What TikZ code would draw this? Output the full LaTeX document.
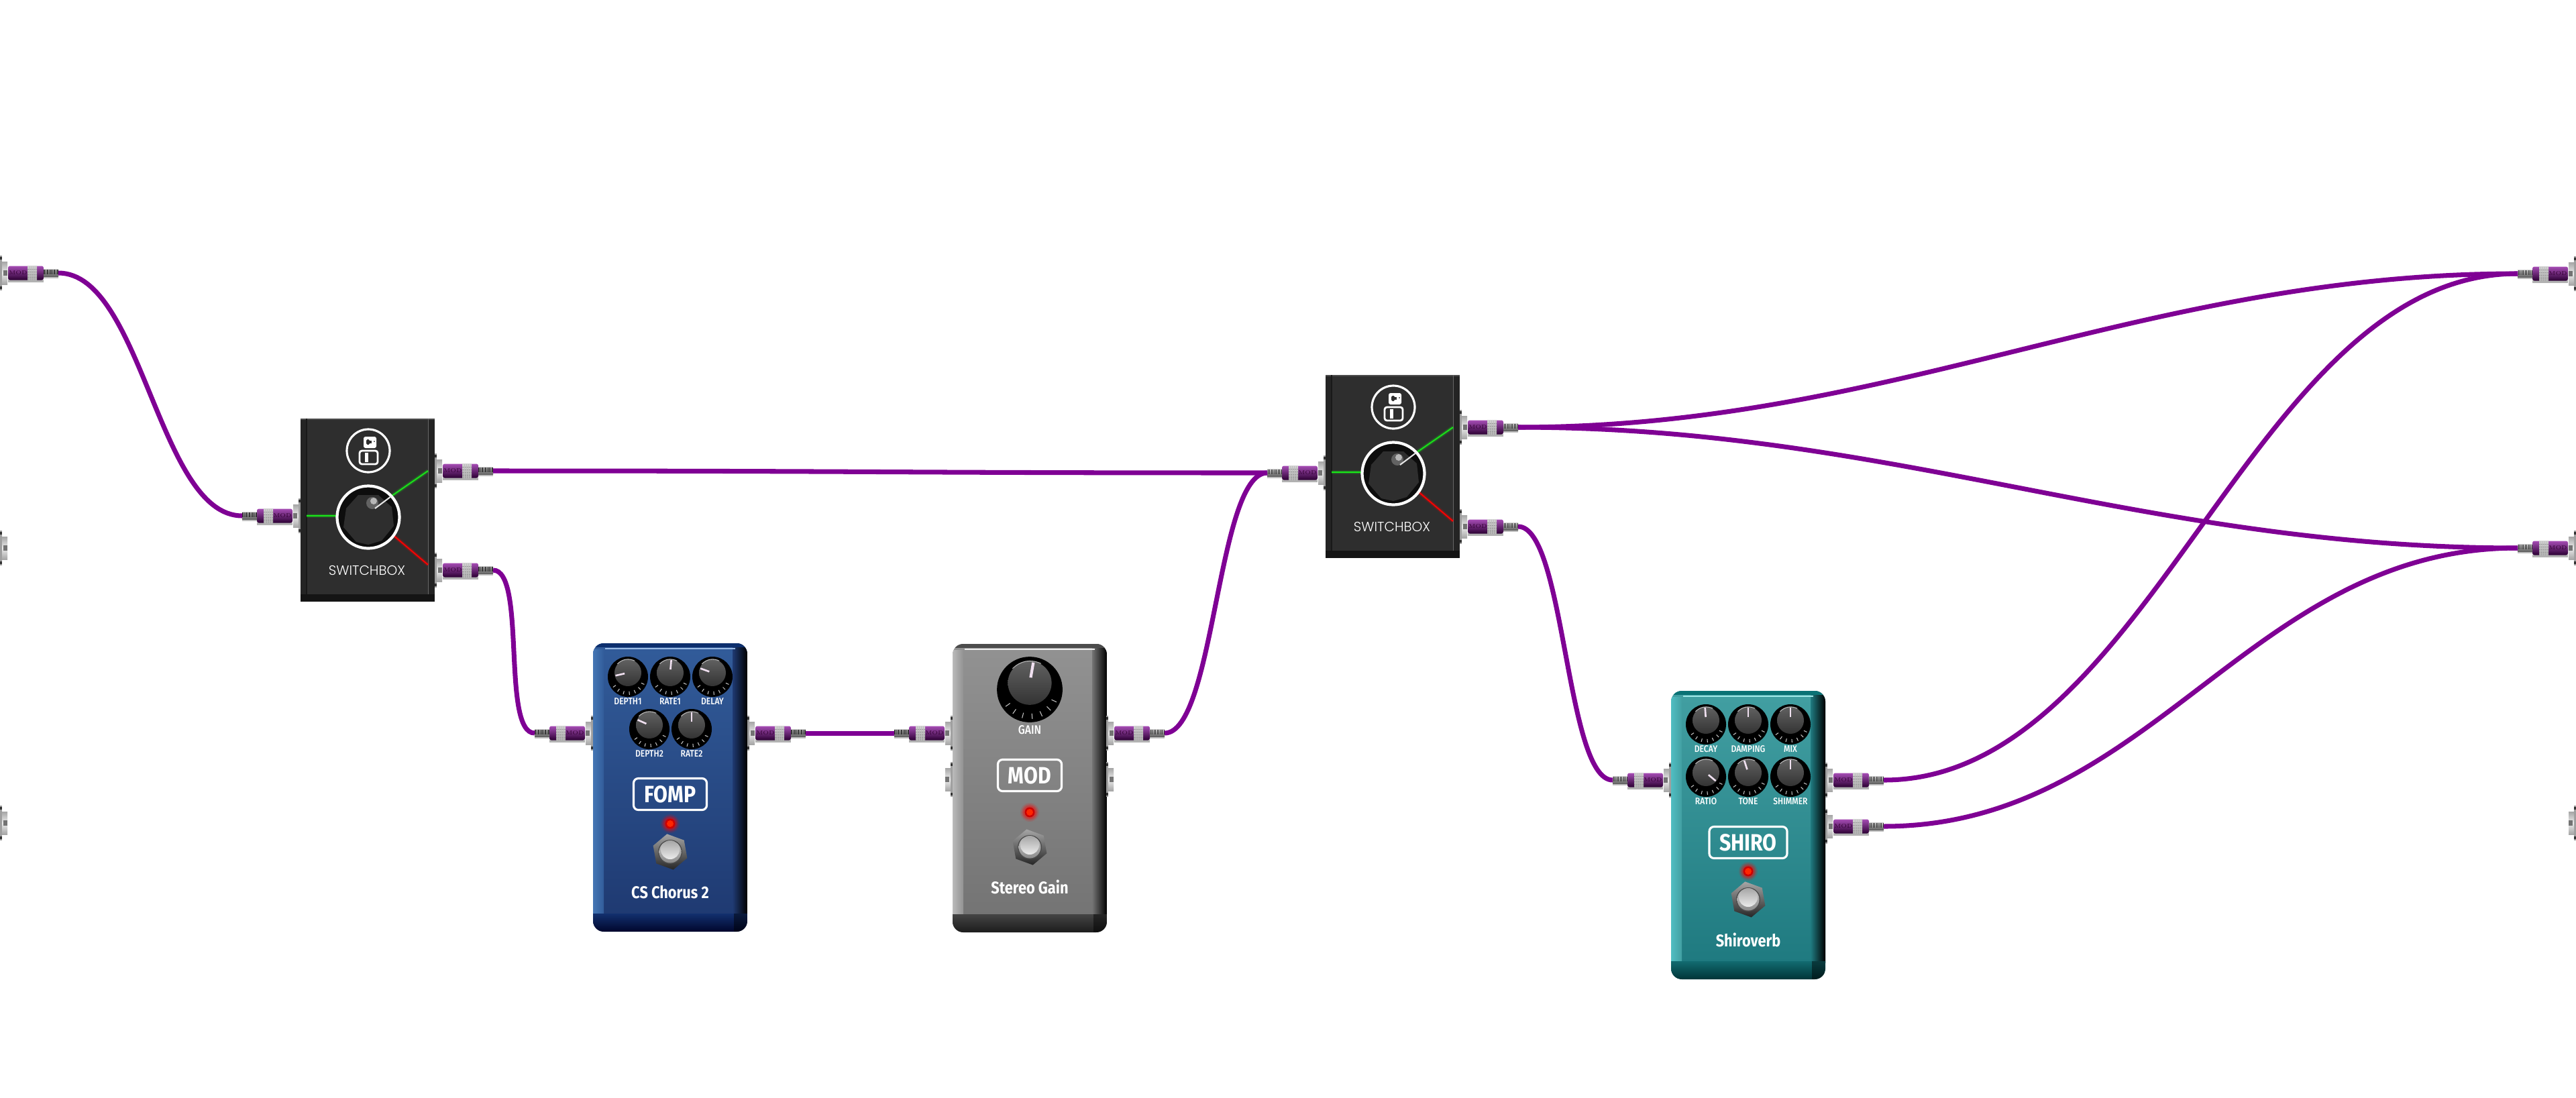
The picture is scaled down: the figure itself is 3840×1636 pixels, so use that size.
\documentclass[tikz,border=0pt]{standalone}
\usepackage{fontspec}
\usepackage{xcolor}
\usepackage{tikz}
\newfontfamily\pedalfont[FakeStretch=0.86]{Fira Sans}
\newfontfamily\labelfont[FakeStretch=0.86]{Fira Sans Medium}
\newfontfamily\boxfont{Poppins Light}
\definecolor{cablepurple}{HTML}{7F0094}
\definecolor{laser}{HTML}{19E619}
\definecolor{fomptop}{HTML}{325C9A}\definecolor{fompbot}{HTML}{1F3A72}\definecolor{fompedge}{HTML}{4476B4}
\definecolor{fomprim}{HTML}{0D2F6E}\definecolor{fomphigh}{HTML}{9CBCE6}\definecolor{fompbase}{HTML}{12306E}\definecolor{fompfoot}{HTML}{00062C}
\definecolor{gaintop}{HTML}{929292}\definecolor{gainbot}{HTML}{747474}\definecolor{gainedge}{HTML}{BABABA}
\definecolor{gainrim}{HTML}{4C4C4C}\definecolor{gainhigh}{HTML}{F0F0F0}\definecolor{gainbase}{HTML}{444444}\definecolor{gainfoot}{HTML}{1C1C1C}
\definecolor{shirotop}{HTML}{429FA2}\definecolor{shirobot}{HTML}{1F7A80}\definecolor{shiroedge}{HTML}{50BEC2}
\definecolor{shirorim}{HTML}{0A7275}\definecolor{shirohigh}{HTML}{9FE8E8}\definecolor{shirobase}{HTML}{126B70}\definecolor{shirofoot}{HTML}{003538}
\tikzset{
  cable/.style={draw=cablepurple,line width=2pt},
  logobox/.style={draw=white,line width=.9pt,rounded corners=2pt,inner sep=0pt,minimum height=.47cm,text=white,font=\pedalfont\bfseries\fontsize{10}{10}\selectfont},
  pedalname/.style={inner sep=0pt,text=white,font=\pedalfont\bfseries\fontsize{7.2}{7}\selectfont},
  knoblabel/.style={inner sep=0pt,text=white,font=\labelfont\fontsize{4}{4}\selectfont},
  pointer/.style={draw=white!88!violet,line width=.75pt},
  pics/jack/.style={code={
    \fill[gray!75] (0,-26) rectangle (3,26);
    \foreach \s in {-22,22} \fill[gray!40!black] (0,\s-2) rectangle (3,\s+2);
    \shade[top color=gray!70,bottom color=gray!70,middle color=gray!15] (3,-17) rectangle (11,17);
    \fill[black!55] (5,-4) rectangle (11,4);
  }},
  pics/plug/.style={code={
    \pic [transform shape] {jack};
    \fill[black,opacity=.3] (12,10) rectangle (65,14);
    \fill[black,opacity=.25] (65,5) rectangle (87,8);
    \shade[rounded corners=.8pt,top color=cablepurple!70!white,middle color=cablepurple,bottom color=cablepurple!35!black] (12,-10.5) rectangle (65,10.5);
    \shade[top color=gray!35,middle color=white,bottom color=gray!70] (41,-10.5) rectangle (55,10.5);
    \foreach \s in {-6,-2,2,6} \draw[gray!80,line width=.25pt] (41,\s) -- (55,\s);
    \foreach \s in {44,47,...,53} \draw[gray!50,line width=.2pt] (\s,-10.5) -- (\s,10.5);
    \shade[top color=gray!40,middle color=gray!20,bottom color=gray!70!black] (65,-5.5) rectangle (87,5.5);
    \foreach \s in {66,68.5,...,86} \draw[black!80,line width=.3pt] (\s,-5.5) -- (\s,1.5);
    \node (-mod) at (27,0) [inner sep=0pt,text=black!60!violet,font=\fontsize{2.4}{3}\selectfont] {MOD};
    \coordinate (-tip) at (87,0);
  }},
  pics/knob/.style 2 args={code={
    \fill[black] (0,0) circle (30);
    \foreach \s in {25,45,...,155} \draw[gray!45,line width=.3pt] (\s:22) -- (\s:27);
    \begin{scope}[shift={(0,-6)}]
      \shade[top color=black!62,bottom color=black!80] (0,0) circle (20);
      \draw[white,opacity=.7,line width=.3pt] (-140:20.5) to[bend left=35] (-60:20.5);
      \draw[pointer] (#1:5) -- (#1:19);
    \end{scope}
    \node (-label) at (0,37) [knoblabel] {#2};
  }},
  pics/footswitch/.style={code={
    \shade[top color=gray!70,bottom color=gray!30!black] (-100:27) -- (-40:27) -- (20:27) -- (80:27) -- (140:27) -- (200:27) -- cycle;
    \fill[black!70] (0,0) circle (18);
    \shade[top color=gray!45,bottom color=gray!90] (0,0) circle (16.5);
    \shade[top color=gray!70,bottom color=gray!15] (0,-3) circle (14);
  }},
  pics/led/.style={code={
    \foreach \s/\o in {14/.12,12/.2,10/.3} \fill[red,opacity=\o] (0,0) circle (\s);
    \fill[black!20!red] (0,0) circle (7.5);
    \fill[red!70!orange] (0,0) circle (5);
  }},
  pics/pedal/.style n args={8}{code={
    \begin{scope}
      \clip[rounded corners=4.5pt] (0,0) rectangle (230,430);
      \shade[top color=#1top,bottom color=#1bot] (0,0) rectangle (230,405);
      \shade[left color=#1edge,right color=#1top] (0,9) rectangle (16,405);
      \shade[left color=#1bot,right color=black] (208,0) rectangle (230,405);
      \fill[#1rim] (0,0) rectangle (230,6);
      \draw[#1high,line width=.7pt] (18,8) -- (212,8);
      \shade[top color=#1base,bottom color=#1foot] (0,403) rectangle (230,430);
      \fill[black,opacity=.45] (210,403) rectangle (230,430);
    \end{scope}
    \node (-logo) at (115,#4) [logobox,minimum width=#3] {#2};
    \pic (-led) at (115,#5) {led};
    \pic (-switch) at (115,#6) {footswitch};
    \node (-name) at (115,#7) [pedalname] {#8};
  }},
  pics/switchbox/.style={code={
    \fill[black!82] (0,0) rectangle (200,273);
    \fill[black!86] (0,0) rectangle (9,273);
    \fill[black!86] (190,0) rectangle (200,273);
    \fill[black!70] (0,0) rectangle (200,2);
    \draw[black!90,line width=.8pt] (9,0) -- (9,262);
    \draw[black!60,line width=.2pt] (190,0) -- (190,273);
    \fill[black!92] (0,262) rectangle (200,273);
    % icon
    \draw[white,line width=.9pt] (101,48) circle (32);
    \fill[white,rounded corners=.8pt] (94,27) rectangle (113,44);
    \fill[black!82,rounded corners=.5pt] (98,31) rectangle (103,39);
    \fill[black!82] (103,33) rectangle (106,37);
    \fill[black!82] (110,34) circle (1);
    \draw[white,line width=.8pt,rounded corners=1pt] (88,48) rectangle (115,68);
    \fill[white] (96,51) rectangle (101,65);
    % glow lines
    \foreach \w/\o in {1.8/.12,1.2/.2} {
      \draw[laser,line width=\w pt,opacity=\o] (9,145) -- (53,145);
      \draw[laser,line width=\w pt,opacity=\o] (190,78) -- (135,116);
      \draw[red,line width=\w pt,opacity=\o] (137,173) -- (190,218);
    }
    \draw[laser,line width=.5pt] (9,145) -- (53,145);
    \draw[laser,line width=.5pt] (190,78) -- (135,116);
    \draw[red,line width=.5pt] (137,173) -- (190,218);
    % dial
    \fill[black!95] (101,147) circle (46);
    \fill[black!82] (86,114) -- ++(30,0) -- ++(20,18) -- ++(3,28) -- ++(-18,22) -- ++(-20,6) -- ++(-18,-4) -- ++(-19,-22) -- ++(4,-28) -- cycle;
    \fill[white,opacity=.55] (109,123) circle (5);
    \fill[white,opacity=.25] (107,126) circle (9);
    \draw[white,line width=1.2pt] (101,147) circle (46.5);
    \draw[white!90!black,line width=.6pt] (111,134) -- (135,116);
    \node (-label) at (99,226) [inner sep=0pt,text=white,font=\boxfont\fontsize{5.7}{6}\selectfont] {SWITCHBOX};
  }}
}
\begin{document}
\begin{tikzpicture}[x=0.01cm,y=-0.01cm]
  \useasboundingbox (0,0) rectangle (3840,1636);

  \pic (sbone) at (448,624) {switchbox};
  \pic (sbtwo) at (1976,559) {switchbox};

  \pic (fomp) at (884,959) {pedal={fomp}{FOMP}{1.09cm}{225}{269}{311}{371}{CS Chorus 2}};
  \pic (gain) at (1420,960) {pedal={gain}{MOD}{.95cm}{196}{251}{303}{362}{Stereo Gain}};
  \pic (shiro) at (2491,1030) {pedal={shiro}{SHIRO}{1.16cm}{226}{269}{311}{371}{Shiroverb}};

  \foreach \x/\y/\a/\t in {936/1009/167/DEPTH1,999/1009/-85/RATE1,1062/1009/-160/DELAY,968/1087/-156/DEPTH2,1031/1087/-90/RATE2,
    2543/1080/-94/DECAY,2606/1080/-90/DAMPING,2669/1080/-90/MIX,2543/1158/40/RATIO,2606/1158/-108/TONE,2669/1158/-90/SHIMMER}
    \pic (k\t) at (\x,\y) {knob={\a}{\t}};
  \pic (kGAIN) [scale=1.63,pointer/.append style={line width=1.2pt},knoblabel/.append style={font=\labelfont\fontsize{5.2}{5}\selectfont}] at (1535,1028) {knob={-80}{GAIN}};

  \pic (sysinone) at (0,407) {plug};
  \pic (sysintwo) at (0,817) {jack};
  \pic (sysinthree) at (0,1227) {jack};
  \pic (sysoutone) [xscale=-1] at (3840,408) {plug};
  \pic (sysouttwo) [xscale=-1] at (3840,817) {plug};
  \pic (sysoutthree) [xscale=-1] at (3840,1227) {jack};

  \pic (sboneIn) [xscale=-1] at (448,769) {plug};
  \pic (sboneA) at (648,702) {plug};
  \pic (sboneB) at (648,850) {plug};
  \pic (sbtwoIn) [xscale=-1] at (1976,705) {plug};
  \pic (sbtwoA) at (2176,637) {plug};
  \pic (sbtwoB) at (2176,785) {plug};
  \pic (fompIn) [xscale=-1] at (884,1093) {plug};
  \pic (fompOut) at (1114,1093) {plug};
  \pic (gainIn) [xscale=-1] at (1420,1093) {plug};
  \pic (gainOut) at (1649,1093) {plug};
  \pic (gainInB) [xscale=-1] at (1420,1162) {jack};
  \pic (gainOutB) at (1649,1162) {jack};
  \pic (shiroIn) [xscale=-1] at (2491,1163) {plug};
  \pic (shiroOutA) at (2721,1163) {plug};
  \pic (shiroOutB) at (2721,1232) {plug};

  \draw[cable] (sysinone-tip) .. controls +(125,0) and +(-125,0) .. (sboneIn-tip);
  \draw[cable] (sboneA-tip) .. controls +(577,0) and +(-577,0) .. (sbtwoIn-tip);
  \draw[cable] (sboneB-tip) .. controls +(50,0) and +(-50,0) .. (fompIn-tip);
  \draw[cable] (fompOut-tip) .. controls +(66,0) and +(-66,0) .. (gainIn-tip);
  \draw[cable] (gainOut-tip) .. controls +(75,0) and +(-75,0) .. (sbtwoIn-tip);
  \draw[cable] (sbtwoA-tip) .. controls +(560,0) and +(-560,0) .. (sysoutone-tip);
  \draw[cable] (sbtwoA-tip) .. controls +(560,0) and +(-560,0) .. (sysouttwo-tip);
  \draw[cable] (sbtwoB-tip) .. controls +(70,0) and +(-70,0) .. (shiroIn-tip);
  \draw[cable] (shiroOutA-tip) .. controls +(400,0) and +(-400,0) .. (sysoutone-tip);
  \draw[cable] (shiroOutB-tip) .. controls +(400,0) and +(-400,0) .. (sysouttwo-tip);
\end{tikzpicture}
\end{document}
